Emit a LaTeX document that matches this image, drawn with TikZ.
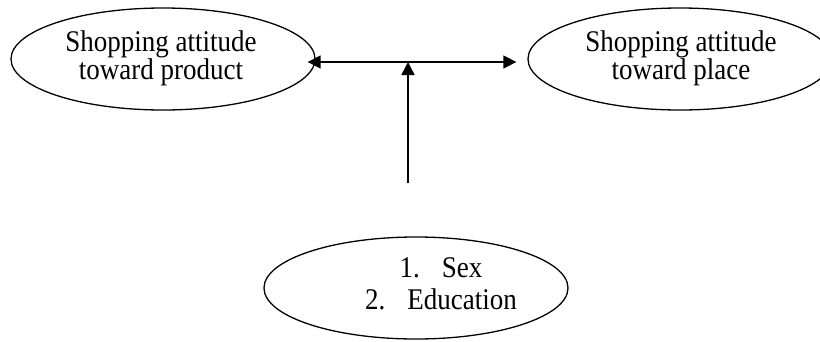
\documentclass[tikz,border=0pt]{standalone}
\usepackage{fontspec}
\setmainfont{Liberation Serif}
\newfontfamily\tallserif[FakeStretch=0.9]{Liberation Serif}
\usetikzlibrary{shapes.geometric,arrows.meta,calc}
\tikzset{
  oval/.style={draw, ellipse, line width=1.3pt, inner sep=0pt, minimum width=304pt, minimum height=102pt},
  lbl/.style={align=center, font=\tallserif\fontsize{30}{28}\selectfont, inner sep=0pt},
  conn/.style={line width=1.5pt, -{Triangle[length=13pt,width=13pt]}},
  conn2/.style={line width=1.5pt, {Triangle[length=13pt,width=13pt]}-{Triangle[length=13pt,width=13pt]}}
}
\begin{document}
\begin{tikzpicture}[x=1pt,y=-1pt]
\useasboundingbox (0,0) rectangle (820,341);
\node[oval] (L) at (163,59) {};
\node[lbl] (Lt) at (161,58.5) {Shopping attitude\\toward product};
\node[oval] (R) at (680,59) {};
\node[lbl] (Rt) at (681,58.5) {Shopping attitude\\toward place};
\node[oval] (B) at (416,288) {};
\node[lbl, font=\tallserif\fontsize{30}{32}\selectfont] (Bt) at (441,284) {1.\hspace{22pt}Sex\\2.\hspace{22pt}Education};
\coordinate (hl) at ($(L.east)+(-8,3)$);
\coordinate (hr) at ($(R.west)+(-11,3)$);
\draw[conn2] (hl) -- (hr);
\coordinate (vb) at (408,183);
\coordinate (vt) at (408,62);
\draw[conn] (vb) -- (vt);
\end{tikzpicture}
\end{document}
